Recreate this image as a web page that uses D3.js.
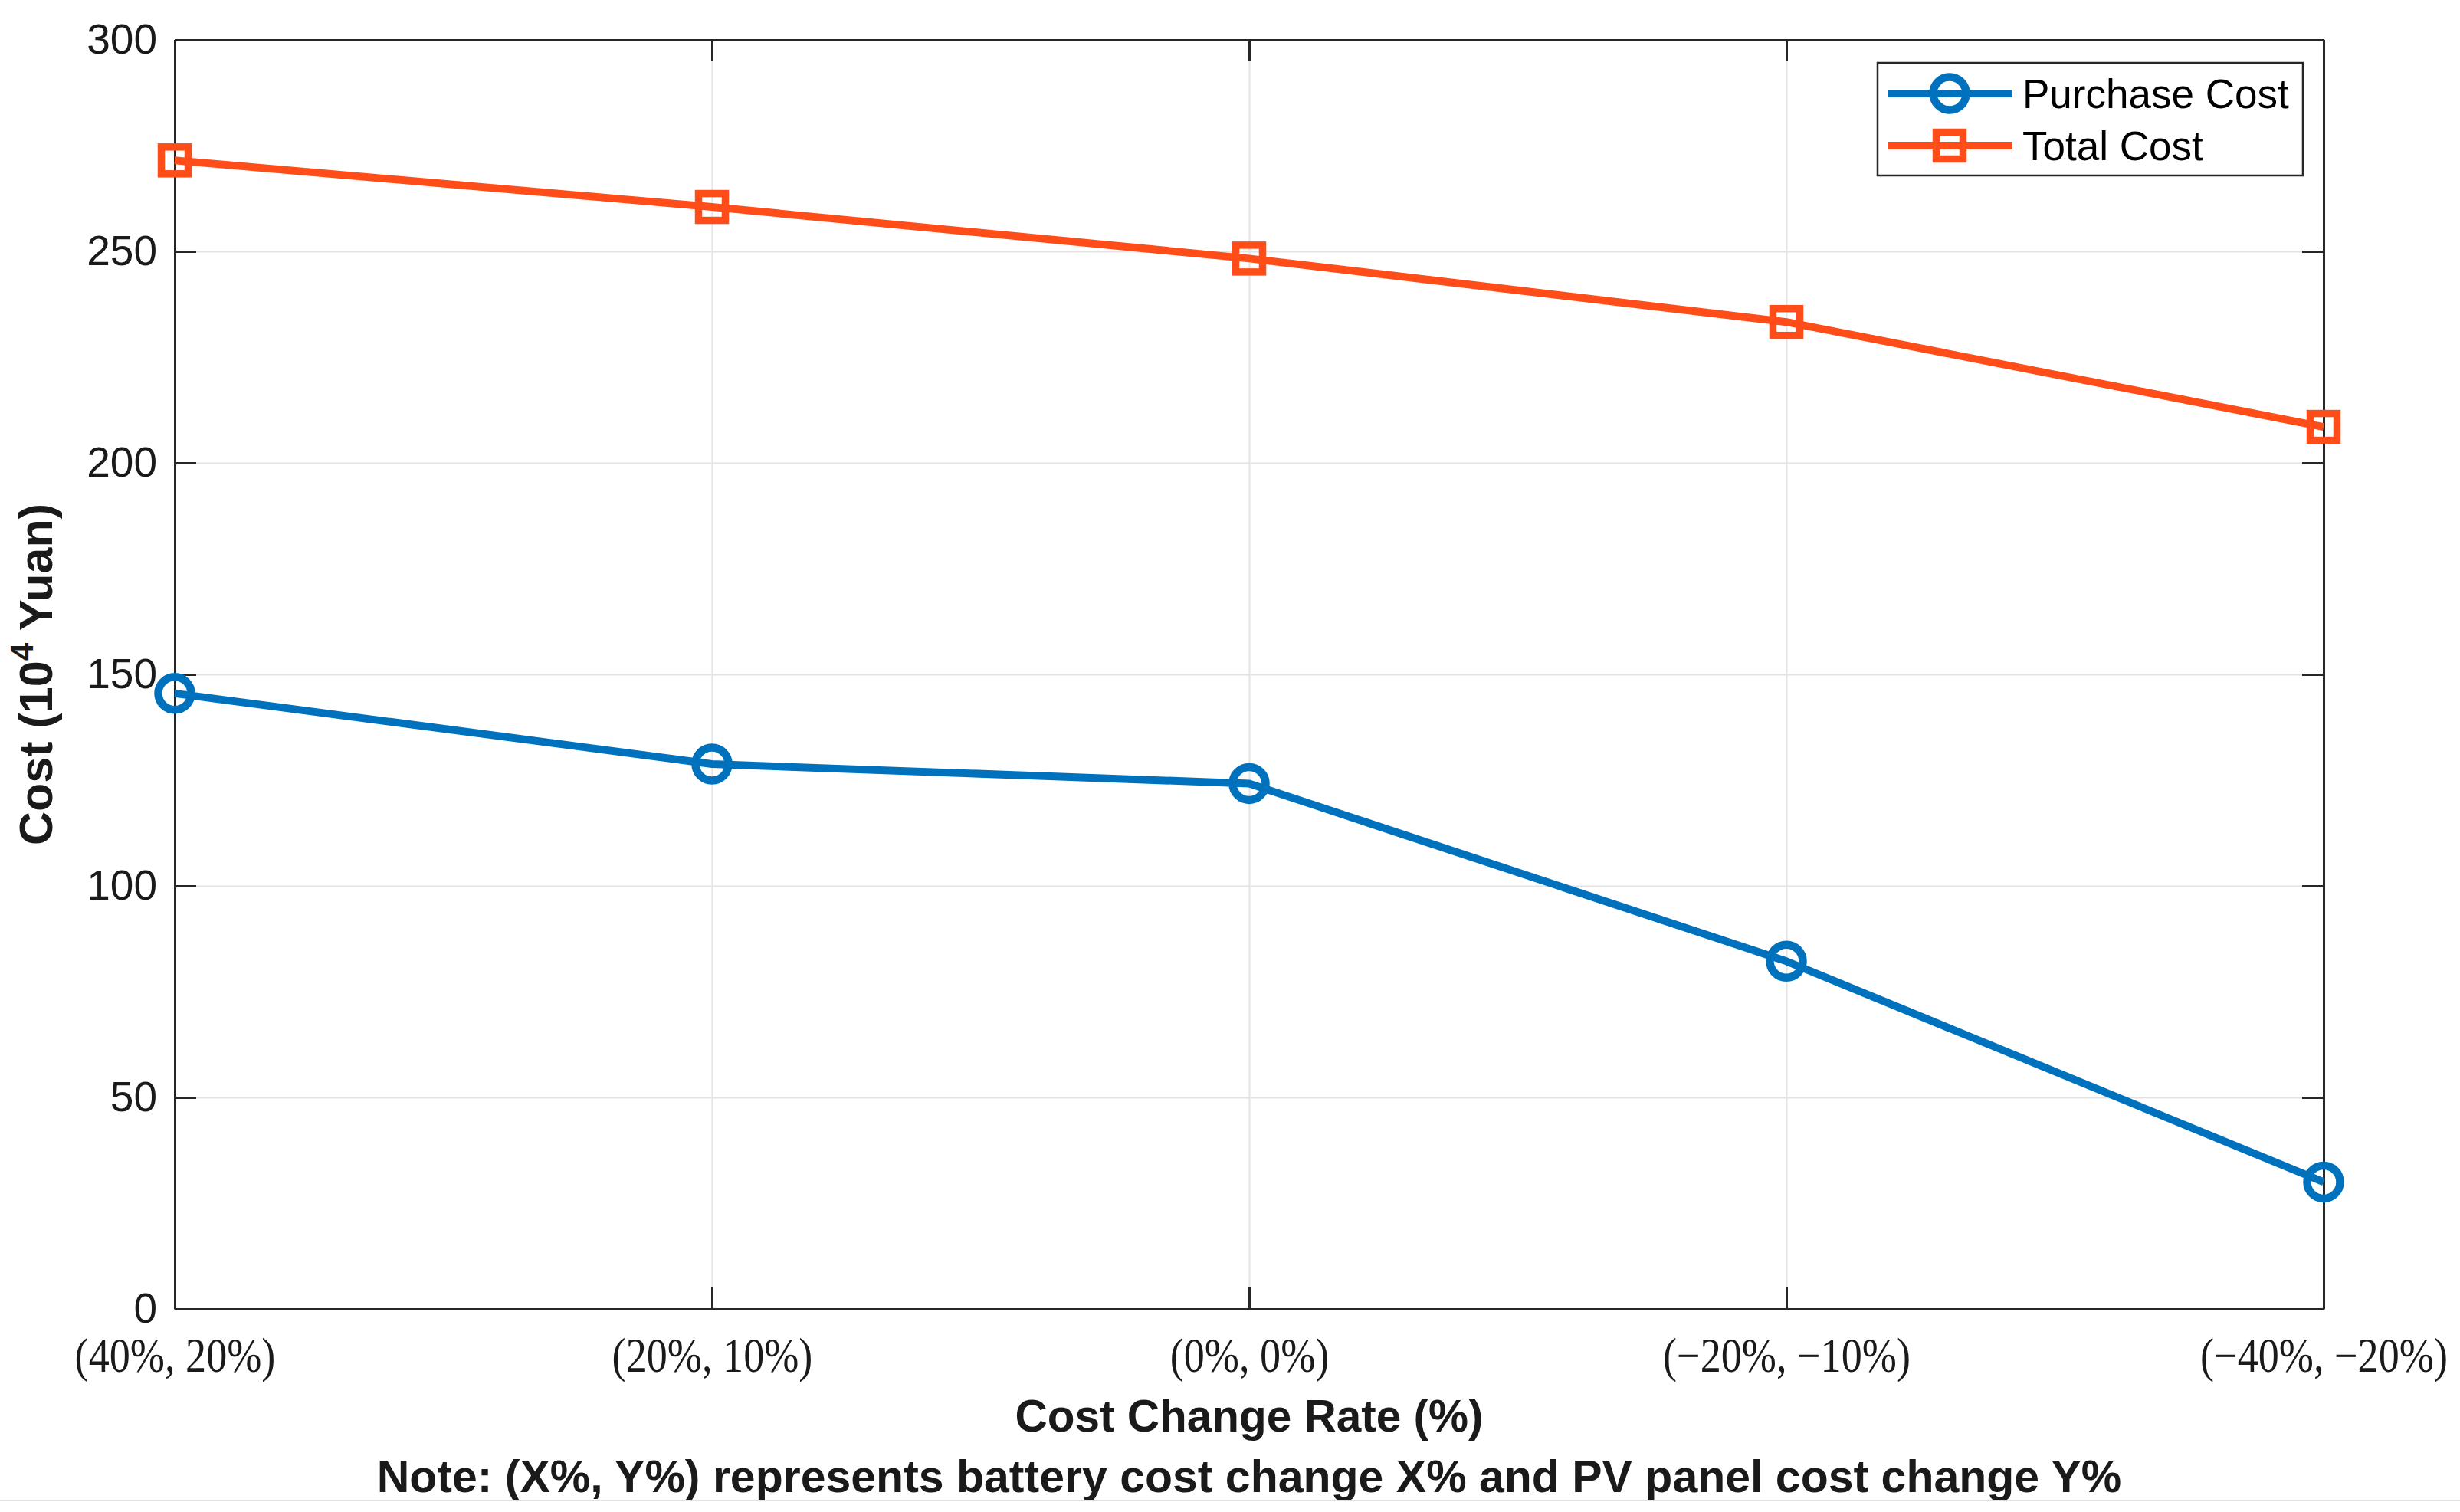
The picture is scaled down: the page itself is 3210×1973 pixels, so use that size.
<!DOCTYPE html>
<html lang="en">
  <head>
    <script src="https://cdn.jsdelivr.net/npm/d3@7"></script>
    <style>
      body {
        margin: 0;
        background: #fff;
      }
      .tick text {
        fill: #1a1a1a;
      }
    </style>
  </head>
  <body>
    <svg id="chart"></svg>
  </body>
  <script>

    // Chart data
    const categories = ['(40%, 20%)', '(20%, 10%)', '(0%, 0%)', '(\u221220%, \u221210%)', '(\u221240%, \u221220%)'];
    const purchaseCost = [145.5, 128.8, 124.2, 82.2, 30.0];
    const totalCost = [271.5, 260.5, 248.3, 233.3, 208.5];
    const yTicks = [0, 50, 100, 150, 200, 250, 300];

    const series = [
      { name: 'Purchase Cost', values: purchaseCost, color: '#0072BD', marker: 'circle' },
      { name: 'Total Cost', values: totalCost, color: '#FF4D1A', marker: 'square' }
    ];

    // Initialize svg
    const W = 3210, H = 1973;
    const margin = { top: 52, right: 178, bottom: 265, left: 228 };
    const width = W - margin.left - margin.right;
    const height = H - margin.top - margin.bottom;

    const root = d3.select('#chart')
        .attr('width', W)
        .attr('height', H);

    root.append('rect')
        .attr('width', W)
        .attr('height', H)
        .attr('fill', '#fff');

    const svg = root.append('g')
        .attr('transform', 'translate(' + margin.left + ',' + margin.top + ')');

    const x = d3.scalePoint().domain(categories).range([0, width]);
    const y = d3.scaleLinear().domain([0, 300]).range([height, 0]);

    // Grid
    svg.append('g')
        .attr('class', 'grid')
        .attr('transform', 'translate(0,' + height + ')')
        .call(d3.axisBottom(x).tickSize(-height).tickFormat(''))
        .call(g => g.select('.domain').remove())
        .call(g => g.selectAll('line').attr('stroke', '#e3e3e3').attr('stroke-width', 2));

    svg.append('g')
        .attr('class', 'grid')
        .call(d3.axisLeft(y).tickValues(yTicks).tickSize(-width).tickFormat(''))
        .call(g => g.select('.domain').remove())
        .call(g => g.selectAll('line').attr('stroke', '#e3e3e3').attr('stroke-width', 2));

    // Axes (inward ticks on all four sides)
    const axisColor = '#262626';
    const tickLen = 28;

    function styleAxis(g) {
      g.select('.domain').attr('stroke', axisColor).attr('stroke-width', 3);
      g.selectAll('.tick line').attr('stroke', axisColor).attr('stroke-width', 3);
    }

    svg.append('g')
        .call(d3.axisLeft(y).tickValues(yTicks).tickSize(-tickLen).tickSizeOuter(0).tickPadding(23))
        .call(styleAxis)
        .call(g => g.selectAll('.tick text')
          .attr('font-family', 'Liberation Sans, Arial, sans-serif')
          .attr('font-size', 55));

    svg.append('g')
        .attr('transform', 'translate(' + width + ',0)')
        .call(d3.axisRight(y).tickValues(yTicks).tickSize(-tickLen).tickSizeOuter(0).tickFormat(''))
        .call(styleAxis);

    svg.append('g')
        .call(d3.axisTop(x).tickSize(-tickLen).tickSizeOuter(0).tickFormat(''))
        .call(styleAxis);

    svg.append('g')
        .attr('transform', 'translate(0,' + height + ')')
        .call(d3.axisBottom(x).tickSize(-tickLen).tickSizeOuter(0).tickPadding(0))
        .call(styleAxis)
        .call(g => g.selectAll('.tick text')
          .attr('font-family', 'Liberation Serif, Times New Roman, serif')
          .attr('font-size', 63)
          .attr('y', 82)
          .attr('dy', 0)
          .attr('transform', 'scale(0.86,1)'));

    // Lines
    const line = d3.line()
        .x((d, i) => x(categories[i]))
        .y(d => y(d));

    function drawMarker(sel, type, color) {
      if (type === 'circle') {
        sel.append('circle')
            .attr('r', 21.5)
            .attr('fill', 'none')
            .attr('stroke', color)
            .attr('stroke-width', 10.5);
      } else {
        sel.append('rect')
            .attr('x', -17.5)
            .attr('y', -17.5)
            .attr('width', 35)
            .attr('height', 35)
            .attr('fill', 'none')
            .attr('stroke', color)
            .attr('stroke-width', 9.5);
      }
    }

    series.forEach(s => {
      svg.append('path')
          .datum(s.values)
          .attr('fill', 'none')
          .attr('stroke', s.color)
          .attr('stroke-width', 10)
          .attr('stroke-linejoin', 'round')
          .attr('d', line);

      svg.selectAll('.m-' + s.marker)
          .data(s.values)
        .enter().append('g')
          .attr('class', 'm-' + s.marker)
          .attr('transform', (d, i) => 'translate(' + x(categories[i]) + ',' + y(d) + ')')
          .each(function() { drawMarker(d3.select(this), s.marker, s.color); });
    });

    // Axis titles
    svg.append('text')
        .attr('x', width / 2)
        .attr('y', height + 160)
        .attr('text-anchor', 'middle')
        .attr('font-family', 'Liberation Sans, Arial, sans-serif')
        .attr('font-weight', 'bold')
        .attr('font-size', 58.5)
        .attr('fill', '#1a1a1a')
        .text('Cost Change Rate (%)');

    svg.append('text')
        .attr('x', width / 2)
        .attr('y', height + 239)
        .attr('text-anchor', 'middle')
        .attr('font-family', 'Liberation Sans, Arial, sans-serif')
        .attr('font-weight', 'bold')
        .attr('font-size', 59)
        .attr('fill', '#1a1a1a')
        .text('Note: (X%, Y%) represents battery cost change X% and PV panel cost change Y%');

    const yTitle = svg.append('text')
        .attr('transform', 'translate(' + (-160) + ',' + (height / 2) + ') rotate(-90)')
        .attr('text-anchor', 'middle')
        .attr('font-family', 'Liberation Sans, Arial, sans-serif')
        .attr('font-weight', 'bold')
        .attr('font-size', 61)
        .attr('fill', '#1a1a1a');
    yTitle.append('tspan').text('Cost (10');
    yTitle.append('tspan').attr('font-size', 42).attr('dy', -25).text('4');
    yTitle.append('tspan').attr('dy', 25).text(' Yuan)');

    // Legend
    const legend = root.append('g')
        .attr('transform', 'translate(2450,82)');

    legend.append('rect')
        .attr('width', 555)
        .attr('height', 147)
        .attr('fill', '#fff')
        .attr('stroke', axisColor)
        .attr('stroke-width', 2.5);

    series.forEach((s, i) => {
      const row = legend.append('g')
          .attr('transform', 'translate(0,' + (40 + i * 68) + ')');
      row.append('line')
          .attr('x1', 14)
          .attr('x2', 176)
          .attr('stroke', s.color)
          .attr('stroke-width', 10);
      const m = row.append('g').attr('transform', 'translate(94,0)');
      drawMarker(m, s.marker, s.color);
      row.append('text')
          .attr('x', 189)
          .attr('dy', '0.36em')
          .attr('font-family', 'Liberation Sans, Arial, sans-serif')
          .attr('font-size', 53)
          .attr('fill', '#000')
          .text(s.name);
    });

    // Faint figure edge at bottom
    root.append('line')
        .attr('x1', 0)
        .attr('x2', W)
        .attr('y1', 1958)
        .attr('y2', 1958)
        .attr('stroke', '#e0e0e0')
        .attr('stroke-width', 2);
  </script>
</html>
